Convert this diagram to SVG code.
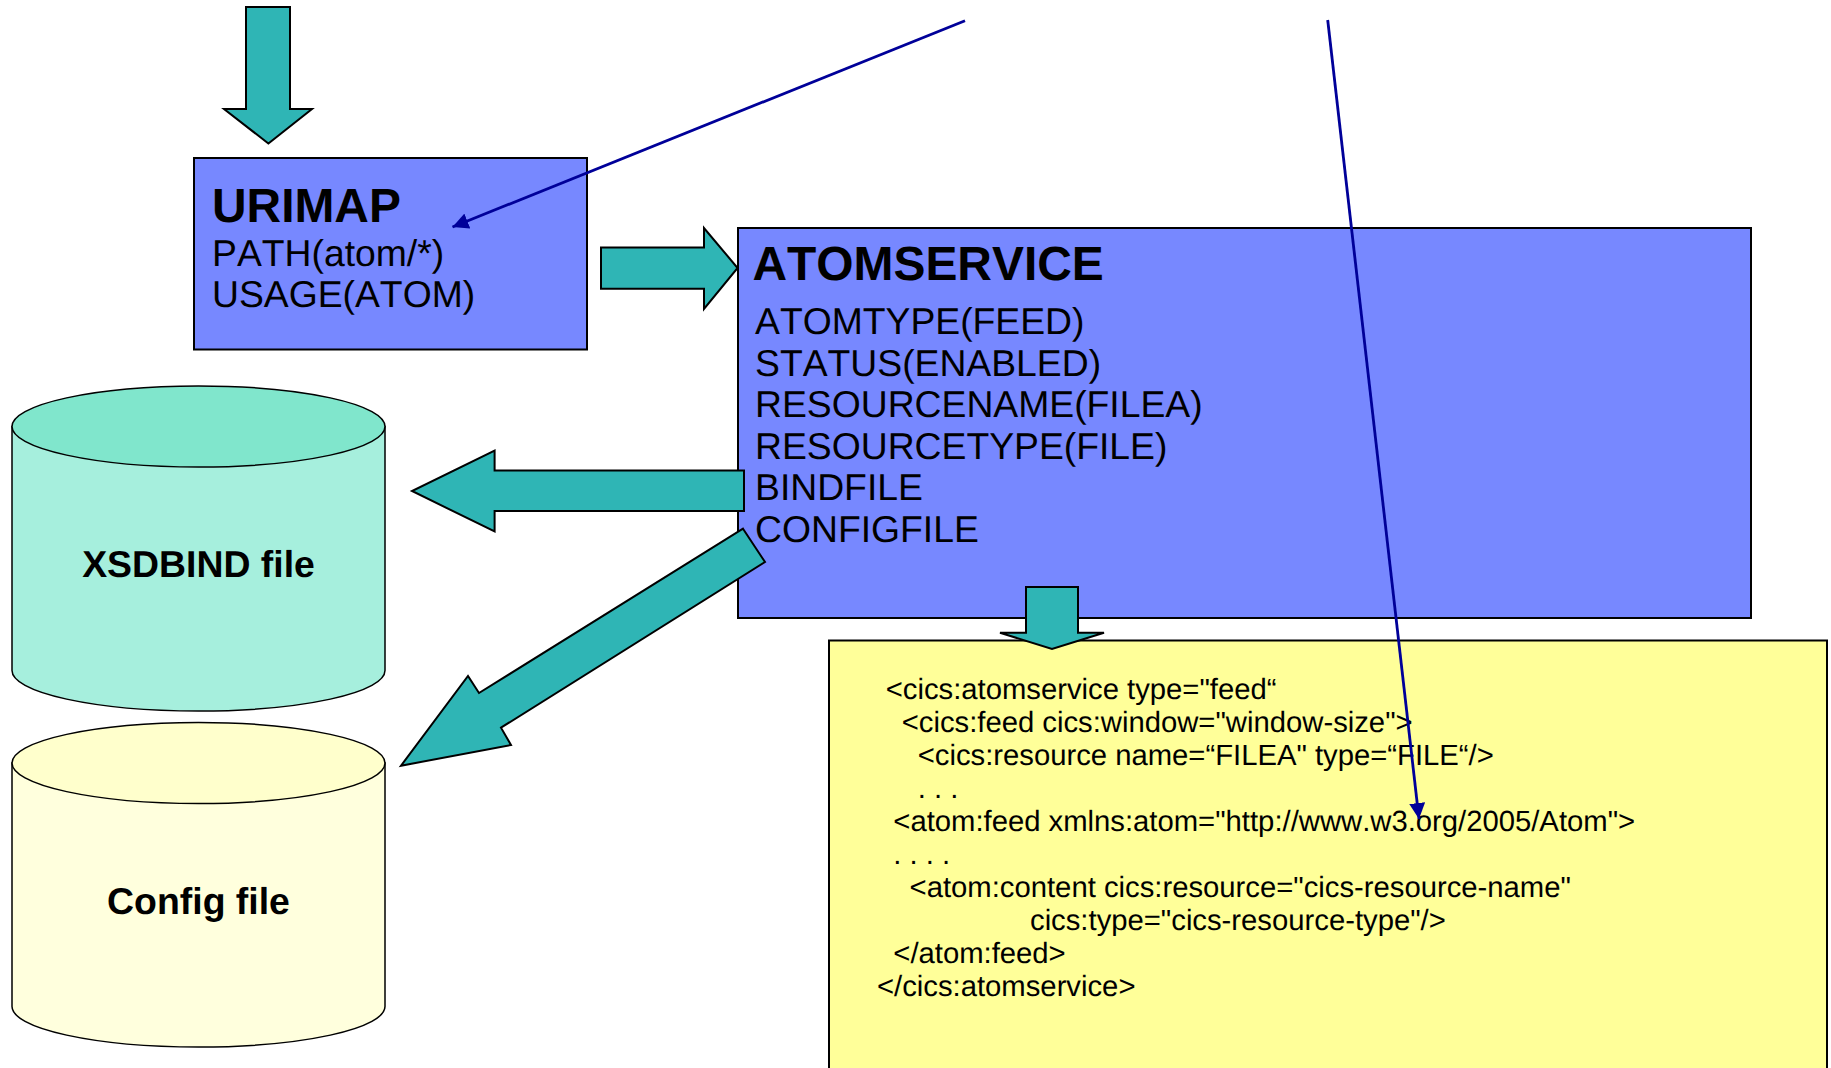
<svg xmlns="http://www.w3.org/2000/svg" width="1831" height="1068" viewBox="0 0 1831 1068">
<style>
text{font-family:"Liberation Sans",Arial,sans-serif;fill:#000;font-kerning:none;text-rendering:geometricPrecision}
.box{fill:#7788FF;stroke:#000;stroke-width:2}
.note{fill:#FFFF99;stroke:#000;stroke-width:2}
.h{font-weight:bold;font-size:47.9px}
.l{font-size:37.3px}
.c{font-weight:bold;font-size:37.4px;text-anchor:middle}
.x{font-size:29.25px}
.cyl{stroke:#000;stroke-width:1.5}
.arrow{fill:#2FB5B5;stroke:#000;stroke-width:2;stroke-linejoin:miter}
.link{fill:none;stroke:#000099;stroke-width:2.8;marker-end:url(#tip)}
</style>
<defs>
<marker id="tip" markerUnits="userSpaceOnUse" markerWidth="17" markerHeight="16" refX="16" refY="8" orient="auto"><path d="M0,0L16,8L0,16Z" fill="#000099"/></marker>
</defs>
<rect width="1831" height="1068" fill="#fff"/>
<g id="urimap">
<rect class="box" x="194" y="158" width="393" height="191.500"/>
<text class="h" x="212" y="222">URIMAP</text>
<text class="l" x="212" y="266">PATH(atom/*)</text>
<text class="l" x="212" y="307">USAGE(ATOM)</text>
</g>
<g id="atomservice">
<rect class="box" x="738" y="228" width="1013" height="390"/>
<text class="h" x="752.500" y="280">ATOMSERVICE</text>
<text class="l" x="755" y="334">ATOMTYPE(FEED)</text>
<text class="l" x="755" y="376">STATUS(ENABLED)</text>
<text class="l" x="755" y="417">RESOURCENAME(FILEA)</text>
<text class="l" x="755" y="459">RESOURCETYPE(FILE)</text>
<text class="l" x="755" y="500">BINDFILE</text>
<text class="l" x="755" y="542">CONFIGFILE</text>
</g>
<g id="xsdbind">
<path class="cyl" fill="#A6EFDD" d="M12,426.500V670.500A186.500,40.500 0 0 0 385,670.500V426.500Z"/>
<ellipse class="cyl" fill="#80E6CC" cx="198.500" cy="426.500" rx="186.500" ry="40.500"/>
<text class="c" x="198.500" y="577">XSDBIND file</text>
</g>
<g id="config">
<path class="cyl" fill="#FFFFDD" d="M12,763V1006.500A186.500,40.500 0 0 0 385,1006.500V763Z"/>
<ellipse class="cyl" fill="#FFFFCC" cx="198.500" cy="763" rx="186.500" ry="40.500"/>
<text class="c" x="198.500" y="914">Config file</text>
</g>
<g id="atomservice-document">
<rect class="note" x="829" y="640.500" width="998" height="440"/>
<text class="x" x="885.700" y="698.500">&lt;cics:atomservice type="feed“</text>
<text class="x" x="901.700" y="731.500">&lt;cics:feed cics:window="window-size"&gt;</text>
<text class="x" x="917.700" y="764.500">&lt;cics:resource name=“FILEA" type=“FILE“/&gt;</text>
<text class="x" x="917.700" y="797.500">. . .</text>
<text class="x" x="893.300" y="830.500">&lt;atom:feed xmlns:atom="http://www.w3.org/2005/Atom"&gt;</text>
<text class="x" x="893.300" y="863.500">. . . .</text>
<text class="x" x="909.600" y="896.500">&lt;atom:content cics:resource="cics-resource-name"</text>
<text class="x" x="1030" y="929.500">cics:type="cics-resource-type"/&gt;</text>
<text class="x" x="893.300" y="962.500">&lt;/atom:feed&gt;</text>
<text class="x" x="877" y="995.500">&lt;/cics:atomservice&gt;</text>
</g>
<g id="connectors">
<polygon class="arrow" points="246,7 290,7 290,109 312,109 268.400,143.500 224,109 246,109"/>
<polygon class="arrow" points="601,247.500 704,247.500 704,228 737.600,268 704,309 704,288.700 601,288.700"/>
<polygon class="arrow" points="744,470.500 494.600,470.500 494.600,450.500 412,491 494.600,531.500 494.600,511 744,511"/>
<polygon class="arrow" points="743,528.700 765,562 501,727.700 511,745 401,765.700 468,676 479,693"/>
<polygon class="arrow" points="1026,587 1078,587 1078,632.700 1104,632.700 1052,649 1000,632.700 1026,632.700"/>
<line class="link" x1="965" y1="20.700" x2="452.500" y2="227"/>
<line class="link" x1="1327.700" y1="20" x2="1419" y2="819"/>
</g>
</svg>
